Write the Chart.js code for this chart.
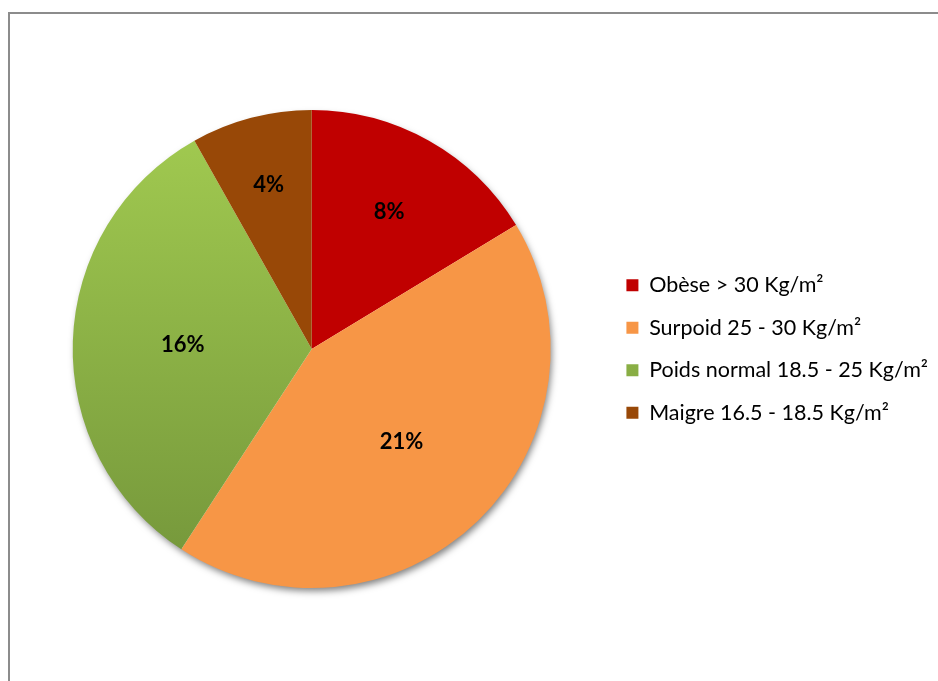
<!DOCTYPE html>
<html>
<head>
<meta charset="utf-8">
<title>IMC</title>
<script src="https://cdn.jsdelivr.net/npm/chart.js@4.4.1/dist/chart.umd.min.js"></script>
<style>
  html, body { margin: 0; padding: 0; background: #fff; }
  #wrap { position: relative; width: 938px; height: 681px; overflow: hidden; }
  #frame {
    position: absolute; left: 8px; top: 12px; width: 960px; height: 720px;
    border: 2px solid #8c8c8c; box-sizing: border-box;
  }
  #pieChart { position: absolute; left: 0; top: 0; }
</style>
</head>
<body>
<div id="wrap">
  <div id="frame"></div>
  <canvas id="pieChart" width="938" height="681"></canvas>
</div>
<script>
// ===================================
// DATA
// ===================================
const categories = [
  'Obèse > 30 Kg/m²',
  'Surpoid 25 - 30 Kg/m²',
  'Poids normal 18.5 - 25 Kg/m²',
  'Maigre 16.5 - 18.5 Kg/m²'
];
const values = [8, 21, 16, 4];

// ===================================
// STYLE
// ===================================
const sliceColors = ['#c00000', '#f79646', null, '#984807'];
const greenTop = '#a3cc51';
const greenBottom = '#73953a';
// distance of each % label from the centre, as a share of the radius
const labelRadius = [0.66, 0.54, 0.54, 0.71];

function sliceColor(context) {
  const i = context.dataIndex;
  if (sliceColors[i]) return sliceColors[i];
  const area = context.chart.chartArea;
  if (!area) return '#8db045';
  const g = context.chart.ctx.createLinearGradient(0, area.top, 0, area.bottom);
  g.addColorStop(0, greenTop);
  g.addColorStop(1, greenBottom);
  return g;
}

// soft shadow under the whole pie
const pieShadow = {
  id: 'pieShadow',
  beforeDatasetsDraw(chart) {
    const arc = chart.getDatasetMeta(0).data[0];
    if (!arc) return;
    const ctx = chart.ctx;
    ctx.save();
    ctx.shadowColor = 'rgba(0, 0, 0, 0.5)';
    ctx.shadowBlur = 7;
    ctx.shadowOffsetX = 2;
    ctx.shadowOffsetY = 4;
    ctx.beginPath();
    ctx.arc(arc.x, arc.y, arc.outerRadius - 1, 0, Math.PI * 2);
    ctx.fillStyle = '#fff';
    ctx.fill();
    ctx.restore();
  }
};

// percentage labels inside the slices
const sliceLabels = {
  id: 'sliceLabels',
  afterDatasetsDraw(chart) {
    const ctx = chart.ctx;
    const arcs = chart.getDatasetMeta(0).data;
    ctx.save();
    ctx.font = 'bold 22px Lato';
    ctx.fillStyle = '#000';
    ctx.textAlign = 'center';
    ctx.textBaseline = 'middle';
    arcs.forEach((arc, i) => {
      const mid = (arc.startAngle + arc.endAngle) / 2;
      const r = arc.outerRadius * labelRadius[i];
      ctx.fillText(values[i] + '%', arc.x + Math.cos(mid) * r, arc.y + Math.sin(mid) * r);
    });
    ctx.restore();
  }
};

new Chart(document.getElementById('pieChart'), {
  type: 'pie',
  data: {
    labels: categories,
    datasets: [{
      data: values,
      backgroundColor: sliceColor,
      borderWidth: 0,
      hoverOffset: 0,
      offset: 0
    }]
  },
  options: {
    responsive: false,
    animation: false,
    layout: { padding: { top: 110, bottom: 93, left: 18, right: 0 } },
    plugins: {
      tooltip: { enabled: false },
      legend: {
        position: 'right',
        labels: {
          boxWidth: 12,
          boxHeight: 12,
          padding: 21,
          color: '#000',
          font: { family: 'Lato', size: 21.5 }
        }
      }
    }
  },
  plugins: [pieShadow, sliceLabels]
});
</script>
</body>
</html>
